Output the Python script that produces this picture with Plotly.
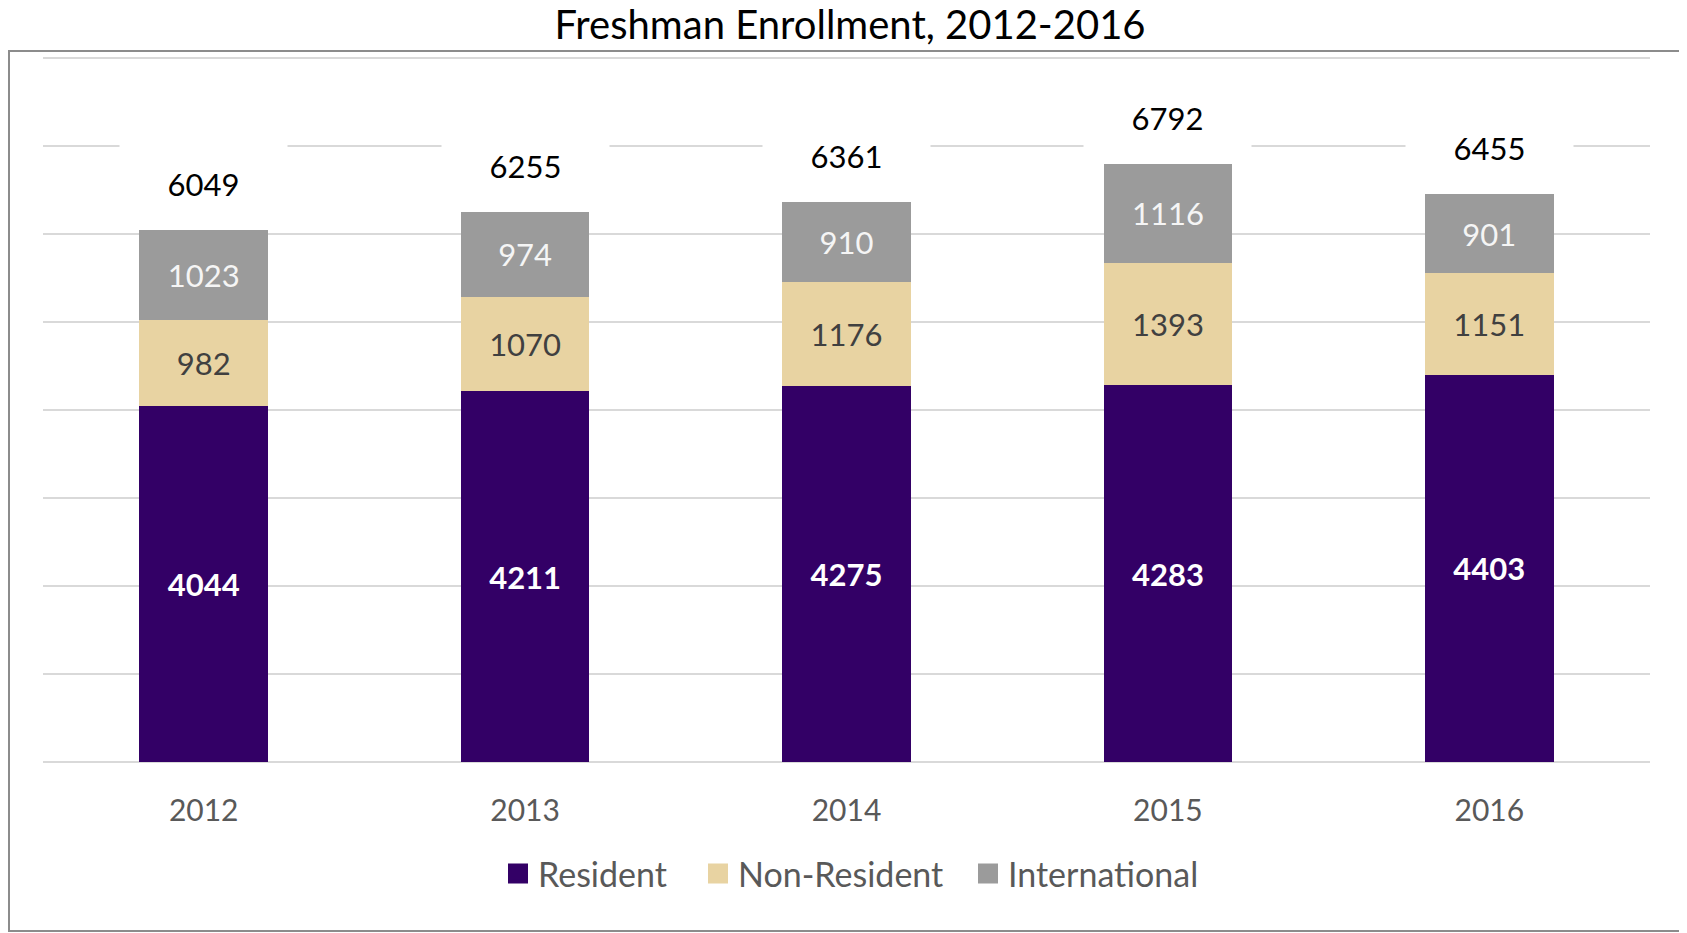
import plotly.graph_objects as go

# data
years = ["2012", "2013", "2014", "2015", "2016"]
resident = [4044, 4211, 4275, 4283, 4403]
non_resident = [982, 1070, 1176, 1393, 1151]
international = [1023, 974, 910, 1116, 901]
totals = [6049, 6255, 6361, 6792, 6455]
y_ticks = [0, 1000, 2000, 3000, 4000, 5000, 6000, 7000, 8000]

# the page body has an 8px margin, so the figure is 8px smaller and
# every pixel position below is measured in figure coordinates
W, H = 1679, 925
FONT = "Lato, 'Open Sans', sans-serif"

# plot area in pixels (top padded by 2px so the 8000 gridline is drawn)
L, R, T, B = 35, 37, 48, 171
pw, ph = W - L - R, H - T - B
y_max = 8000 * ph / (ph - 2)


def px_x(x):
    return (x - L) / pw


def px_y(y):
    return (H - B - y) / ph


series = [
    ("Resident", resident, "#330066", "white", "bold"),
    ("Non-Resident", non_resident, "#E8D3A2", "#404040", "normal"),
    ("International", international, "#9B9B9B", "#F5F5F5", "normal"),
]
legend_text_x = [530, 730, 1000]

fig = go.Figure()
for name, vals, color, txtcolor, weight in series:
    fig.add_trace(
        go.Bar(
            x=years,
            y=vals,
            name=name,
            marker=dict(color=color, line=dict(width=0)),
            text=vals,
            texttemplate="%{text}",
            textposition="inside",
            insidetextanchor="middle",
            textangle=0,
            textfont=dict(family=FONT, size=31, color=txtcolor, weight=weight),
            showlegend=False,
            hoverinfo="skip",
        )
    )

# legend-only stand-ins, one legend each so they can be placed like the original
legends = {}
for i, (name, vals, color, txtcolor, weight) in enumerate(series):
    key = "legend" if i == 0 else f"legend{i + 1}"
    fig.add_trace(
        go.Scatter(
            x=[years[0]],
            y=[None],
            mode="markers",
            name=name,
            legend=key,
            marker=dict(symbol="square", size=16, color=color,
                        line=dict(color=color, width=4)),
            hoverinfo="skip",
        )
    )
    legends[key] = dict(
        orientation="h",
        x=px_x(legend_text_x[i] - 40),
        xanchor="left",
        y=px_y(866),
        yanchor="middle",
        font=dict(family=FONT, size=34, color="#595959"),
        itemsizing="trace",
        bgcolor="rgba(0,0,0,0)",
    )

for i, tot in enumerate(totals):
    fig.add_annotation(
        x=i,
        y=tot,
        text=str(tot),
        showarrow=False,
        yshift=46,
        width=165,
        height=78,
        bgcolor="white",
        font=dict(family=FONT, size=31, color="black"),
    )

fig.add_shape(
    type="rect",
    xref="paper",
    yref="paper",
    x0=px_x(1),
    x1=px_x(1676),
    y0=px_y(923),
    y1=px_y(43),
    line=dict(color="#8C8C8C", width=2),
    layer="below",
)

fig.update_layout(
    width=W,
    height=H,
    margin=dict(l=L, r=R, t=T, b=B),
    barmode="stack",
    bargap=0.6,
    plot_bgcolor="white",
    paper_bgcolor="white",
    title=dict(
        text="Freshman Enrollment, 2012-2016",
        x=842 / W,
        xanchor="center",
        y=1 - 17 / H,
        yanchor="middle",
        font=dict(family=FONT, size=40, color="black"),
    ),
    xaxis=dict(
        type="category",
        categoryorder="array",
        categoryarray=years,
        range=[-0.5, len(years) - 0.5],
        showgrid=False,
        showline=False,
        ticks="",
        ticklabelstandoff=28,
        tickfont=dict(family=FONT, size=30, color="#595959"),
    ),
    yaxis=dict(
        range=[0, y_max],
        tickvals=y_ticks,
        showticklabels=False,
        showgrid=True,
        gridcolor="#D9D9D9",
        gridwidth=2,
        zeroline=True,
        zerolinecolor="#D9D9D9",
        zerolinewidth=2,
        showline=False,
    ),
    **legends,
)

fig.write_html("out.html")
